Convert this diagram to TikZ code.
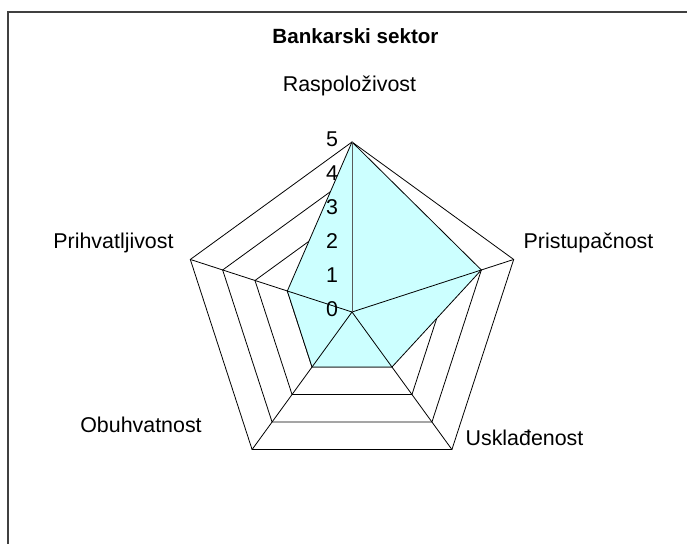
\documentclass[tikz,border=0pt]{standalone}
\usepackage{fontspec}
\setmainfont{Liberation Sans}
\usepackage{tikz}
\definecolor{areafill}{HTML}{CCFFFF}
\definecolor{framecol}{HTML}{404040}

\begin{document}
\begin{tikzpicture}[x=1pt,y=1pt,
		ring/.style={draw=black,line width=0.8pt},
		spoke/.style={draw=black,line width=0.8pt},
		area/.style={fill=areafill,draw=black,line width=0.8pt},
		axislabel/.style={font=\fontsize{21.4}{25}\selectfont,inner sep=0pt,anchor=base},
		ticklabel/.style={font=\fontsize{21.4}{25}\selectfont,inner sep=0pt,anchor=base},
		]
		\useasboundingbox (0,0) rectangle (687,543);
		% frame
		\draw[framecol,line width=2pt] (7.5,-5) -- (7.5,531) -- (692,531);
		\node[font=\bfseries\fontsize{20.6}{25}\selectfont,inner sep=0pt,anchor=base] (title) at (355.5,499) {Bankarski sektor};
		\begin{scope}[shift={(352,231)}]
			\coordinate (c) at (0,0);
			% rings
			\foreach \r in {1,...,5}
				\draw[ring] (90:\r*34) -- (18:\r*34) -- (-54:\r*34) -- (-126:\r*34) -- (162:\r*34) -- cycle;
			% data
			\coordinate (v1) at (90:170);
			\coordinate (v2) at (18:136);
			\coordinate (v3) at (-54:68);
			\coordinate (v4) at (-126:68);
			\coordinate (v5) at (162:68);
			\draw[area] (v1) -- (v2) -- (v3) -- (v4) -- (v5) -- cycle;
			% spokes
			\foreach \a/\n in {18/o2,-54/o3,-126/o4,162/o5}{
				\coordinate (\n) at (\a:170);
				\draw[spoke] (c) -- (\n);
			}
			\coordinate (o1) at (90:170);
			\draw[gray!70!black,line width=0.8pt] (c) -- (o1);
			% scale
			\foreach \k in {0,...,5}
				\node[ticklabel] (t\k) at (-20,\k*34-4.5) {\k};
		\end{scope}
		% axis names
		\node[axislabel] (raspolozivost) at (349.5,451) {Raspoloživost};
		\node[axislabel] (pristupacnost) at (588.5,294) {Pristupačnost};
		\node[axislabel] (uskladenost) at (524.5,97) {Usklađenost};
		\node[axislabel] (obuhvatnost) at (141,110) {Obuhvatnost};
		\node[axislabel] (prihvatljivost) at (113.5,294) {Prihvatljivost};
	\end{tikzpicture}
\end{document}
